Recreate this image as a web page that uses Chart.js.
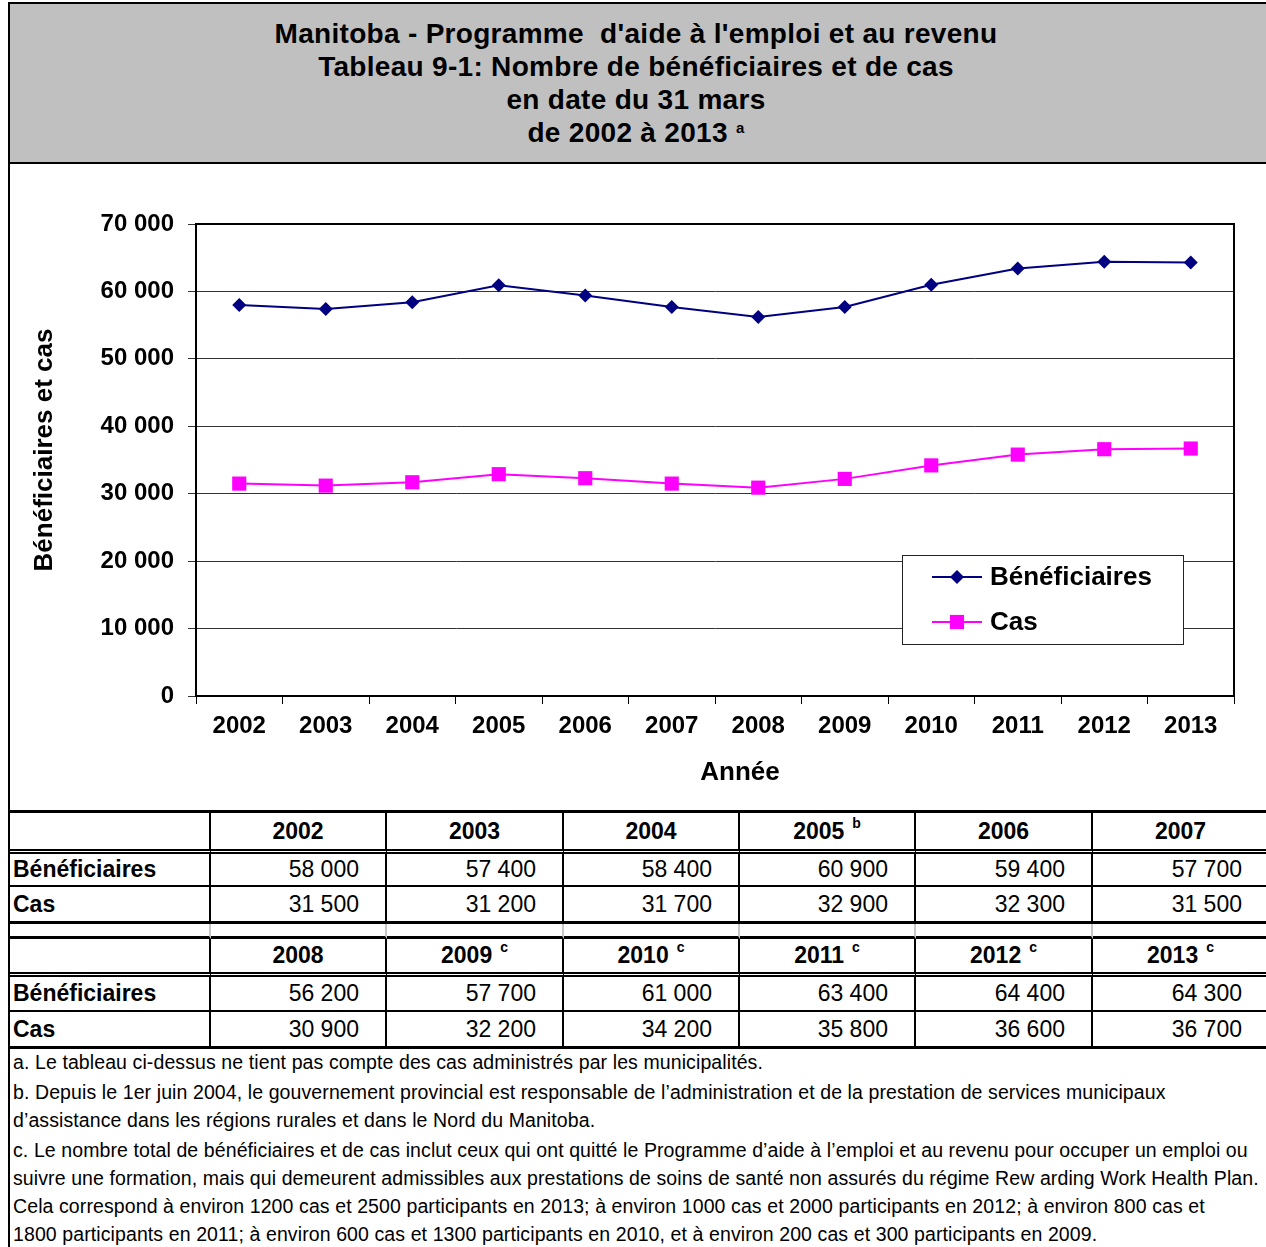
<!DOCTYPE html>
<html lang="fr">
<head>
<meta charset="utf-8">
<title>Manitoba - Programme d'aide à l'emploi et au revenu</title>
<script src="https://cdn.jsdelivr.net/npm/chart.js@4.4.1/dist/chart.umd.min.js"></script>
<style>
  html, body { margin: 0; padding: 0; background: #fff; }
  body { font-family: "Liberation Sans", Arial, sans-serif; color: #000; }
  #page { position: relative; width: 1266px; height: 1247px; overflow: hidden; }

  #title {
    position: absolute; left: 8px; top: 2px; width: 1280px; height: 162px;
    box-sizing: border-box; background: #c0c0c0;
    border: 2px solid #000; border-right: none;
    padding-top: 13px; text-align: center;
    font-weight: bold; font-size: 28px; line-height: 33px; letter-spacing: 0.3px;
    padding-right: 26px;
  }
  #title sup { font-size: 15px; vertical-align: 9px; line-height: 0; }

  #chartBox {
    position: absolute; left: 8px; top: 164px; width: 1280px; height: 646px;
    border-left: 2px solid #000;
  }
  #chart { display: block; }

  #data {
    position: absolute; left: 8px; top: 810px;
    border-collapse: separate; border-spacing: 0; table-layout: fixed;
    border-top: 3px solid #000; border-left: 2px solid #000;
    font-size: 23px;
  }
  #data td {
    box-sizing: border-box; padding: 0 26px 0 3px;
    border-right: 2px solid #000; text-align: right; white-space: nowrap;
  }
  #data td.label { text-align: left; font-weight: bold; }
  #data tr.head td { font-weight: bold; text-align: center; padding: 0; border-bottom: 5px double #000; }
  #data tr.ben td { border-bottom: 2px solid #000; }
  #data tr.cas td { border-bottom: 3px solid #000; }
  #data tr.gap td { border-bottom: 3px solid #000; border-right-color: #c8c8c8; }
  #data sup { font-size: 14px; vertical-align: 11px; line-height: 0; margin-left: 8px; }

  #notes {
    position: absolute; left: 8px; top: 1048px; width: 1280px;
    border-left: 2px solid #000; padding-left: 3px;
    font-size: 19.5px; line-height: 28px; letter-spacing: 0.1px;
  }
  #notes p { margin: 0; }
  #notes p + p { margin-top: 2px; }
</style>
</head>
<body>
<div id="page">
  <div id="title">
    Manitoba - Programme&nbsp; d'aide à l'emploi et au revenu<br>
    Tableau 9-1: Nombre de bénéficiaires et de cas<br>
    en date du 31 mars<br>
    de 2002 à 2013 <sup>a</sup>
  </div>

  <div id="chartBox"><canvas id="chart" width="1256" height="646"></canvas></div>

  <table id="data"></table>

  <div id="notes">
    <p>a. Le tableau ci-dessus ne tient pas compte des cas administrés par les municipalités.</p>
    <p>b. Depuis le 1er juin 2004, le gouvernement provincial est responsable de l’administration et de la prestation de services municipaux<br>d’assistance dans les régions rurales et dans le Nord du Manitoba.</p>
    <p>c. Le nombre total de bénéficiaires et de cas inclut ceux qui ont quitté le Programme d’aide à l’emploi et au revenu pour occuper un emploi ou<br>suivre une formation, mais qui demeurent admissibles aux prestations de soins de santé non assurés du régime Rew arding Work Health Plan.<br>Cela correspond à environ 1200 cas et 2500 participants en 2013; à environ 1000 cas et 2000 participants en 2012; à environ 800 cas et<br>1800 participants en 2011; à environ 600 cas et 1300 participants en 2010, et à environ 200 cas et 300 participants en 2009.</p>
  </div>
</div>

<script>
// nombres au 31 mars
const annees = ["2002", "2003", "2004", "2005", "2006", "2007", "2008", "2009", "2010", "2011", "2012", "2013"];
const notesAnnee = ["", "", "", "b", "", "", "", "c", "c", "c", "c", "c"];
const beneficiaires = [58000, 57400, 58400, 60900, 59400, 57700, 56200, 57700, 61000, 63400, 64400, 64300];
const cas = [31500, 31200, 31700, 32900, 32300, 31500, 30900, 32200, 34200, 35800, 36600, 36700];
const yTicks = [0, 10000, 20000, 30000, 40000, 50000, 60000, 70000];

// 58000 -> "58 000"
function fmt(v) {
  return String(v).replace(/\B(?=(\d{3})+(?!\d))/g, " ");
}

const FONT = '"Liberation Sans", Arial, sans-serif';

// ---- tableau sous le graphique (deux blocs de 6 annees) ----
(function buildTable() {
  const table = document.getElementById("data");
  const colWidths = [201, 176, 177, 176, 176, 177, 177];
  const cg = document.createElement("colgroup");
  colWidths.forEach(function (w) {
    const c = document.createElement("col");
    c.style.width = w + "px";
    cg.appendChild(c);
  });
  table.appendChild(cg);
  table.style.width = colWidths.reduce(function (s, w) { return s + w; }, 2) + "px";

  function row(cls, height, cells) {
    const tr = document.createElement("tr");
    tr.className = cls;
    cells.forEach(function (html, i) {
      const td = document.createElement("td");
      td.style.height = height + "px";
      if (i === 0 && cls !== "head" && cls !== "gap") td.className = "label";
      td.innerHTML = html;
      tr.appendChild(td);
    });
    table.appendChild(tr);
  }

  const blocks = [[0, 6], [6, 12]];
  blocks.forEach(function (b, k) {
    const idx = [];
    for (let i = b[0]; i < b[1]; i++) idx.push(i);
    row("head", k === 0 ? 41 : 38, [""].concat(idx.map(function (i) {
      return annees[i] + (notesAnnee[i] ? "<sup>" + notesAnnee[i] + "</sup>" : "");
    })));
    row("ben", k === 0 ? 33 : 35, ["Bénéficiaires"].concat(idx.map(function (i) { return fmt(beneficiaires[i]); })));
    row("cas", 37, ["Cas"].concat(idx.map(function (i) { return fmt(cas[i]); })));
    if (k === 0) row("gap", 15, ["", "", "", "", "", "", ""]);
  });
})();

// ---- cadre du graphique, titres d'axes et legende ----
const framePlugin = {
  id: "frame",
  beforeDatasetsDraw(chart) {
    const a = chart.chartArea;
    const ctx = chart.ctx;
    ctx.save();
    ctx.strokeStyle = "#000";
    ctx.lineWidth = 2;
    ctx.strokeRect(a.left, a.top, a.right - a.left, a.bottom - a.top);
    ctx.restore();
  },
  afterDraw(chart) {
    const ctx = chart.ctx;
    ctx.save();
    ctx.fillStyle = "#000";
    ctx.font = "bold 26px " + FONT;
    ctx.textAlign = "center";
    ctx.textBaseline = "middle";
    ctx.fillText("Année", 730, 609);
    ctx.translate(35, 286);
    ctx.rotate(-Math.PI / 2);
    ctx.fillText("Bénéficiaires et cas", 0, 0);
    ctx.restore();
  }
};

const legendPlugin = {
  id: "boxLegend",
  afterDatasetsDraw(chart) {
    const ctx = chart.ctx;
    const x = 892, y = 391, w = 281, h = 89;
    ctx.save();
    ctx.fillStyle = "#fff";
    ctx.fillRect(x, y, w, h);
    ctx.strokeStyle = "#222";
    ctx.lineWidth = 1;
    ctx.strokeRect(x + 0.5, y + 0.5, w, h);
    chart.data.datasets.forEach(function (ds, i) {
      const cy = y + 22 + i * 45;
      ctx.strokeStyle = ds.borderColor;
      ctx.lineWidth = 2;
      ctx.beginPath();
      ctx.moveTo(x + 30, cy);
      ctx.lineTo(x + 80, cy);
      ctx.stroke();
      ctx.fillStyle = ds.pointBackgroundColor;
      Chart.helpers.drawPoint(ctx, {
        pointStyle: ds.pointStyle, radius: ds.pointRadius, rotation: 0, borderWidth: 0
      }, x + 55, cy);
      ctx.fillStyle = "#000";
      ctx.font = "bold 26px " + FONT;
      ctx.textAlign = "left";
      ctx.textBaseline = "middle";
      ctx.fillText(ds.label, x + 88, cy + 1);
    });
    ctx.restore();
  }
};

new Chart(document.getElementById("chart"), {
  type: "line",
  data: {
    labels: annees,
    datasets: [
      {
        label: "Bénéficiaires",
        data: beneficiaires,
        borderColor: "#000080",
        backgroundColor: "#000080",
        pointBackgroundColor: "#000080",
        pointBorderColor: "#000080",
        borderWidth: 2,
        pointStyle: "rectRot",
        pointRadius: 7,
        pointBorderWidth: 0,
        tension: 0
      },
      {
        label: "Cas",
        data: cas,
        borderColor: "#ff00ff",
        backgroundColor: "#ff00ff",
        pointBackgroundColor: "#ff00ff",
        pointBorderColor: "#ff00ff",
        borderWidth: 2,
        pointStyle: "rect",
        pointRadius: 10,
        pointBorderWidth: 0,
        tension: 0
      }
    ]
  },
  options: {
    responsive: false,
    animation: false,
    layout: { padding: { top: 60, right: 32, left: 0, bottom: 0 } },
    plugins: { legend: { display: false }, tooltip: { enabled: false } },
    scales: {
      x: {
        offset: true,
        grid: { offset: true, drawOnChartArea: false, tickLength: 8, color: "#000", lineWidth: 1 },
        border: { color: "#000", width: 2 },
        ticks: { color: "#000", font: { family: FONT, size: 24, weight: "bold" }, padding: 8, maxRotation: 0 },
        afterFit(scale) { scale.height = 114; }
      },
      y: {
        min: 0,
        max: 70000,
        afterBuildTicks(scale) { scale.ticks = yTicks.map(function (v) { return { value: v }; }); },
        grid: { color: "#333", lineWidth: 1, tickLength: 8 },
        border: { color: "#000", width: 2 },
        ticks: { color: "#000", font: { family: FONT, size: 24, weight: "bold" }, padding: 14, callback: fmt },
        afterFit(scale) { scale.width = 186; }
      }
    }
  },
  plugins: [framePlugin, legendPlugin]
});
</script>
</body>
</html>
